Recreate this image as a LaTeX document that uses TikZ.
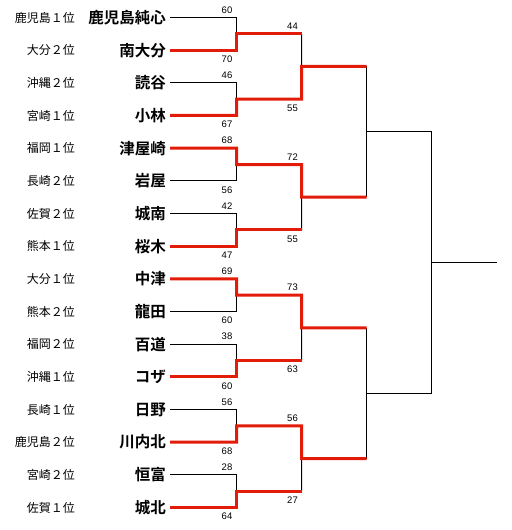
\documentclass[tikz,border=0pt]{standalone}
\usepackage{fontspec}
\usetikzlibrary{calc}
\newfontfamily\cjk{Noto Sans CJK JP}[BoldFont={Noto Sans CJK JP Bold}]
\newfontfamily\numfont{Liberation Sans}
\definecolor{winred}{RGB}{226,28,8}
\tikzset{
  seed/.style={font=\cjk\fontsize{12bp}{14bp}\selectfont, anchor=east, inner sep=0pt},
  team/.style={font=\cjk\bfseries\fontsize{15.5bp}{18bp}\selectfont, anchor=east, inner sep=0pt},
  score/.style={font=\numfont\fontsize{9.5bp}{11bp}\selectfont, inner sep=0pt},
  lose/.style={draw=black, line width=1bp},
  win/.style={draw=winred, line width=3bp, line join=miter},
}
\begin{document}
\begin{tikzpicture}[x=1bp,y=-1bp]
\useasboundingbox (0,0) rectangle (512,530);
% rows
\foreach \i/\s/\t [evaluate=\i as \y using {17.5+32.667*(\i-1)}] in {
 1/鹿児島１位/鹿児島純心, 2/大分２位/南大分, 3/沖縄２位/読谷, 4/宮崎１位/小林,
 5/福岡１位/津屋崎, 6/長崎２位/岩屋, 7/佐賀２位/城南, 8/熊本１位/桜木,
 9/大分１位/中津, 10/熊本２位/龍田, 11/福岡２位/百道, 12/沖縄１位/コザ,
 13/長崎１位/日野, 14/鹿児島２位/川内北, 15/宮崎２位/恒富, 16/佐賀１位/城北}{
  \node[seed] (s\i) at (75,\y) {\s};
  \node[team] (n\i) at (166,\y) {\t};
  \coordinate (t\i) at (170,\y);
  \coordinate (j\i) at (236.5,\y);
}
% round 1 junctions
\foreach \k/\a/\b in {1/1/2,2/3/4,3/5/6,4/7/8,5/9/10,6/11/12,7/13/14,8/15/16}{
  \coordinate (m\k) at ($(j\a)!0.5!(j\b)$);
  \coordinate (h\k) at (301.5,0 |- m\k);
}
% round 2 junctions
\foreach \k/\a/\b in {1/1/2,2/3/4,3/5/6,4/7/8}{
  \coordinate (q\k) at ($(h\a)!0.5!(h\b)$);
  \coordinate (r\k) at (366.5,0 |- q\k);
}
% round 3 junctions
\coordinate (u1) at ($(r1)!0.5!(r2)$);
\coordinate (u2) at ($(r3)!0.5!(r4)$);
\coordinate (v1) at (431.5,0 |- u1);
\coordinate (v2) at (431.5,0 |- u2);
\coordinate (w) at ($(v1)!0.5!(v2)$);
\coordinate (fin) at (497,0 |- w);

% losers round 1
\foreach \i/\k in {1/1,3/2,6/3,7/4,10/5,11/6,13/7,15/8}{
  \draw[lose] (t\i) -- (j\i) -- (m\k);
}
% losers round 2
\draw[lose] (h1) -- (q1);
\draw[lose] (h4) -- (q2);
\draw[lose] (h6) -- (q3);
\draw[lose] (h8) -- (q4);
% round 3 and final (undecided)
\draw[lose] (r1) -- (r2);
\draw[lose] (r3) -- (r4);
\draw[lose] (u1) -- (v1);
\draw[lose] (u2) -- (v2);
\draw[lose] (v1) -- (v2);
\draw[lose] (w) -- (fin);

% winners
\draw[win] (t2) -- (j2) -- (m1) -- (h1);
\draw[win] (t4) -- (j4) -- (m2) -- (h2) -- (q1) -- (r1);
\draw[win] (t5) -- (j5) -- (m3) -- (h3) -- (q2) -- (r2);
\draw[win] (t8) -- (j8) -- (m4) -- (h4);
\draw[win] (t9) -- (j9) -- (m5) -- (h5) -- (q3) -- (r3);
\draw[win] (t12) -- (j12) -- (m6) -- (h6);
\draw[win] (t14) -- (j14) -- (m7) -- (h7) -- (q4) -- (r4);
\draw[win] (t16) -- (j16) -- (m8) -- (h8);

% round 1 scores
\foreach \a/\b/\sa/\sb in {1/2/60/70,3/4/46/67,5/6/68/56,7/8/42/47,9/10/69/60,11/12/38/60,13/14/56/68,15/16/28/64}{
  \node[score] (sc\a) at ($(227,0 |- j\a)+(0,-7.5)$) {\sa};
  \node[score] (sc\b) at ($(227,0 |- j\b)+(0,9)$) {\sb};
}
% round 2 scores
\foreach \a/\b/\sa/\sb in {1/2/44/55,3/4/72/55,5/6/73/63,7/8/56/27}{
  \node[score] (sd\a) at ($(292.5,0 |- h\a)+(0,-7.5)$) {\sa};
  \node[score] (sd\b) at ($(292.5,0 |- h\b)+(0,9)$) {\sb};
}
\end{tikzpicture}
\end{document}
